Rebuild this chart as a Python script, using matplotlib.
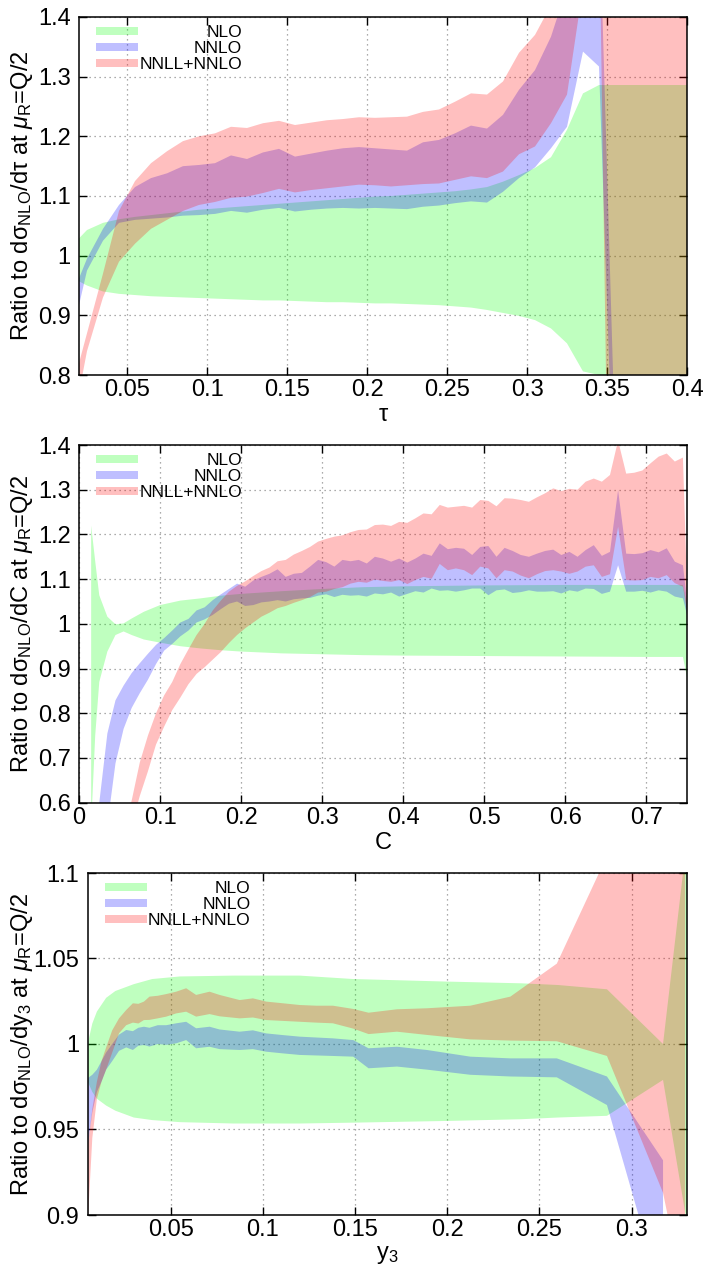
import matplotlib
matplotlib.use("Agg")
import matplotlib.pyplot as plt
from matplotlib.patches import Rectangle

plt.rcParams.update({
    "font.family": ["Liberation Sans", "DejaVu Sans"],
    "mathtext.fontset": "custom",
    "mathtext.rm": "Liberation Sans",
    "mathtext.it": "Liberation Sans:italic",
    "mathtext.bf": "Liberation Sans:bold",
})

# ---------------- data: panel 1 (thrust tau) ----------------
tau_x = [0.02, 0.025, 0.035, 0.045, 0.055, 0.065, 0.075, 0.085, 0.095, 0.105,
         0.115, 0.125, 0.135, 0.145, 0.155, 0.165, 0.175, 0.185, 0.195, 0.205,
         0.215, 0.225, 0.235, 0.245, 0.255, 0.265, 0.275, 0.285, 0.295, 0.305,
         0.315, 0.325, 0.335, 0.345]
tau_nlo_lo = [0.957, 0.950, 0.940, 0.936, 0.934, 0.932, 0.931, 0.930, 0.929, 0.928,
              0.927, 0.926, 0.925, 0.925, 0.924, 0.923, 0.922, 0.922, 0.921, 0.920,
              0.920, 0.919, 0.918, 0.917, 0.915, 0.913, 0.909, 0.904, 0.899, 0.892,
              0.878, 0.853, 0.806, 0.800]
tau_nlo_hi = [1.029, 1.043, 1.055, 1.061, 1.065, 1.068, 1.071, 1.074, 1.077, 1.079,
              1.081, 1.083, 1.085, 1.087, 1.089, 1.091, 1.093, 1.095, 1.097, 1.099,
              1.100, 1.102, 1.104, 1.106, 1.108, 1.111, 1.115, 1.124, 1.135, 1.147,
              1.165, 1.211, 1.272, 1.286]
tau_nnlo_lo = [0.917, 0.975, 1.025, 1.055, 1.060, 1.062, 1.064, 1.067, 1.068, 1.070,
               1.075, 1.072, 1.077, 1.080, 1.074, 1.077, 1.079, 1.080, 1.079, 1.080,
               1.079, 1.078, 1.082, 1.084, 1.088, 1.091, 1.089, 1.107, 1.130, 1.148,
               1.180, 1.216, 1.342, 1.317]
tau_nnlo_hi = [0.962, 0.995, 1.045, 1.085, 1.115, 1.130, 1.138, 1.150, 1.152, 1.155,
               1.168, 1.162, 1.173, 1.179, 1.166, 1.171, 1.176, 1.180, 1.182, 1.180,
               1.178, 1.176, 1.190, 1.194, 1.205, 1.218, 1.213, 1.236, 1.278, 1.311,
               1.367, 1.450, 1.600, 1.600]
tau_nnll_lo = [0.770, 0.840, 0.930, 0.990, 1.020, 1.045, 1.060, 1.075, 1.085, 1.090,
               1.097, 1.099, 1.105, 1.112, 1.106, 1.110, 1.113, 1.116, 1.119, 1.118,
               1.116, 1.118, 1.120, 1.121, 1.127, 1.133, 1.130, 1.141, 1.170, 1.183,
               1.222, 1.270, 1.450, 1.600]
tau_nnll_hi = [0.820, 0.870, 0.970, 1.075, 1.125, 1.155, 1.175, 1.192, 1.200, 1.205,
               1.216, 1.214, 1.222, 1.226, 1.219, 1.223, 1.227, 1.229, 1.232, 1.231,
               1.232, 1.233, 1.241, 1.245, 1.258, 1.272, 1.270, 1.292, 1.340, 1.370,
               1.420, 1.500, 1.600, 1.700]
# behaviour past the kinematic edge
tau_nlo_tail_x, tau_nlo_tail_lo, tau_nlo_tail_hi = [0.35, 0.40], [0.78, 0.78], [1.286, 1.286]
tau_nnlo_tail_x, tau_nnlo_tail_lo, tau_nnlo_tail_hi = [0.356], [0.45], [0.60]
tau_nnll_tail_x, tau_nnll_tail_lo, tau_nnll_tail_hi = [0.351, 0.40], [0.50, 0.50], [1.70, 1.70]

# ---------------- data: panel 2 (C parameter) ----------------
c_nlo_x = [0.015, 0.02, 0.025, 0.035, 0.045, 0.055, 0.065, 0.08, 0.1, 0.125, 0.15,
           0.175, 0.2, 0.25, 0.3, 0.35, 0.4, 0.5, 0.6, 0.7, 0.745, 0.75]
c_nlo_lo = [0.55, 0.75, 0.87, 0.938, 0.975, 0.983, 0.975, 0.965, 0.958, 0.950, 0.945,
            0.941, 0.938, 0.934, 0.932, 0.930, 0.929, 0.928, 0.927, 0.926, 0.926, 0.88]
c_nlo_hi = [1.22, 1.14, 1.064, 1.016, 0.999, 1.001, 1.012, 1.027, 1.042, 1.052, 1.057,
            1.063, 1.067, 1.073, 1.078, 1.082, 1.084, 1.086, 1.087, 1.087, 1.087, 1.04]

c_x = [0.025, 0.035, 0.045, 0.055, 0.065, 0.075, 0.085, 0.095, 0.105, 0.115,
       0.125, 0.135, 0.145, 0.155, 0.165, 0.175, 0.185, 0.195, 0.205, 0.215,
       0.225, 0.235, 0.245, 0.255, 0.265, 0.275, 0.285, 0.295, 0.305, 0.315,
       0.325, 0.335, 0.345, 0.355, 0.365, 0.375, 0.385, 0.395, 0.405, 0.415,
       0.425, 0.435, 0.445, 0.455, 0.465, 0.475, 0.485, 0.495, 0.505, 0.515,
       0.525, 0.535, 0.545, 0.555, 0.565, 0.575, 0.585, 0.595, 0.605, 0.615,
       0.625, 0.635, 0.645, 0.655, 0.665, 0.675, 0.685, 0.695, 0.705, 0.715,
       0.725, 0.735, 0.745, 0.75]
c_nnlo_lo = [0.45, 0.55, 0.688, 0.765, 0.812, 0.845, 0.875, 0.91, 0.94, 0.955,
             0.972, 0.985, 1.003, 1.01, 1.02, 1.033, 1.045, 1.05, 1.04, 1.042,
             1.048, 1.05, 1.053, 1.05, 1.055, 1.057, 1.058, 1.063, 1.066, 1.06,
             1.065, 1.063, 1.064, 1.061, 1.068, 1.066, 1.070, 1.061, 1.067, 1.073,
             1.070, 1.079, 1.074, 1.075, 1.072, 1.075, 1.079, 1.079, 1.064, 1.075,
             1.077, 1.069, 1.071, 1.075, 1.072, 1.072, 1.073, 1.068, 1.075, 1.072,
             1.079, 1.078, 1.067, 1.072, 1.131, 1.072, 1.072, 1.074, 1.070, 1.075,
             1.072, 1.061, 1.057, 1.02]
c_nnlo_hi = [0.60, 0.755, 0.829, 0.862, 0.89, 0.912, 0.933, 0.953, 0.968, 0.985,
             1.003, 1.011, 1.03, 1.037, 1.053, 1.066, 1.078, 1.09, 1.083, 1.097,
             1.105, 1.112, 1.122, 1.105, 1.112, 1.114, 1.128, 1.143, 1.138, 1.128,
             1.143, 1.14, 1.143, 1.135, 1.150, 1.146, 1.139, 1.146, 1.137, 1.146,
             1.157, 1.152, 1.180, 1.167, 1.170, 1.168, 1.154, 1.172, 1.174, 1.150,
             1.170, 1.163, 1.154, 1.150, 1.157, 1.163, 1.166, 1.154, 1.161, 1.150,
             1.165, 1.176, 1.152, 1.161, 1.299, 1.157, 1.156, 1.158, 1.165, 1.160,
             1.169, 1.139, 1.131, 1.05]
c_nnll_lo = [0.30, 0.35, 0.40, 0.45, 0.55, 0.615, 0.67, 0.73, 0.77, 0.807,
             0.835, 0.865, 0.888, 0.903, 0.92, 0.937, 0.957, 0.975, 0.99, 1.003,
             1.016, 1.025, 1.035, 1.04, 1.047, 1.053, 1.06, 1.07, 1.072, 1.078,
             1.082, 1.09, 1.094, 1.092, 1.099, 1.096, 1.094, 1.098, 1.089, 1.098,
             1.105, 1.101, 1.134, 1.120, 1.124, 1.120, 1.109, 1.128, 1.124, 1.102,
             1.120, 1.117, 1.108, 1.102, 1.111, 1.118, 1.120, 1.117, 1.112, 1.117,
             1.128, 1.131, 1.105, 1.111, 1.217, 1.098, 1.097, 1.098, 1.105, 1.102,
             1.109, 1.091, 1.083, 1.03]
c_nnll_hi = [0.35, 0.42, 0.48, 0.54, 0.605, 0.69, 0.75, 0.80, 0.84, 0.87,
             0.91, 0.943, 0.975, 1.0, 1.03, 1.052, 1.072, 1.085, 1.095, 1.107,
             1.118, 1.126, 1.14, 1.143, 1.155, 1.163, 1.172, 1.184, 1.19, 1.195,
             1.198, 1.205, 1.210, 1.211, 1.221, 1.222, 1.219, 1.228, 1.226, 1.236,
             1.247, 1.245, 1.266, 1.260, 1.262, 1.264, 1.260, 1.277, 1.275, 1.263,
             1.281, 1.280, 1.277, 1.273, 1.283, 1.292, 1.303, 1.297, 1.302, 1.300,
             1.318, 1.325, 1.318, 1.333, 1.41, 1.336, 1.338, 1.343, 1.359, 1.374,
             1.381, 1.363, 1.372, 1.08]

# ---------------- data: panel 3 (y3) ----------------
y3_nlo_x = [0.005, 0.0075, 0.01, 0.015, 0.02, 0.03, 0.04, 0.055, 0.084, 0.12,
            0.149, 0.2, 0.24, 0.26, 0.2866, 0.317, 0.33]
y3_nlo_lo = [0.978, 0.972, 0.968, 0.964, 0.961, 0.957, 0.9555, 0.9543, 0.9535, 0.9535,
             0.954, 0.955, 0.956, 0.957, 0.958, 0.979, 0.895]
y3_nlo_hi = [1.0, 1.012, 1.019, 1.027, 1.031, 1.035, 1.038, 1.0395, 1.040, 1.040,
             1.038, 1.0365, 1.0355, 1.0345, 1.032, 1.0, 1.12]

y3_x = [0.005, 0.0075, 0.01, 0.0125, 0.015, 0.0183, 0.022, 0.0259, 0.0295, 0.0325,
        0.0355, 0.0385, 0.043, 0.0476, 0.053, 0.0584, 0.0638, 0.0711, 0.0765, 0.0874,
        0.0946, 0.1018, 0.111, 0.12, 0.129, 0.138, 0.149, 0.1573, 0.1727, 0.189,
        0.2125, 0.2342, 0.2594, 0.2866, 0.317, 0.329]
y3_nnlo_lo = [0.94, 0.96, 0.972, 0.978, 0.985, 0.99, 0.996, 0.998, 0.9965, 0.999,
              0.9994, 0.9985, 1.0, 0.9995, 1.0004, 1.0023, 0.9975, 0.9984, 0.997, 0.9965,
              0.997, 0.9955, 0.9945, 0.9936, 0.9933, 0.993, 0.9926, 0.9858, 0.9868, 0.985,
              0.982, 0.981, 0.9805, 0.9643, 0.85]
y3_nnlo_hi = [0.98, 0.982, 0.985, 0.99, 0.995, 1.0, 1.0055, 1.0082, 1.0075, 1.0095,
              1.0101, 1.0095, 1.011, 1.011, 1.0121, 1.013, 1.0092, 1.0101, 1.0085, 1.0072,
              1.008, 1.0062, 1.0052, 1.0043, 1.0038, 1.0033, 1.0023, 0.9975, 0.9984, 0.9965,
              0.9926, 0.9916, 0.9916, 0.981, 0.932]
y3_nnll_lo = [0.895, 0.945, 0.968, 0.978, 0.985, 0.995, 1.0063, 1.011, 1.0125, 1.012,
              1.014, 1.0141, 1.015, 1.016, 1.0179, 1.0189, 1.016, 1.0175, 1.0162, 1.015,
              1.0155, 1.014, 1.0135, 1.013, 1.0125, 1.0121, 1.009, 1.0058, 1.0072, 1.0053,
              1.0027, 1.002, 1.0016, 0.993, 0.913, 0.85]
y3_nnll_hi = [0.94, 0.962, 0.978, 0.99, 0.998, 1.008, 1.015, 1.0199, 1.0238, 1.0235,
              1.0248, 1.0277, 1.0282, 1.0292, 1.0306, 1.0326, 1.0287, 1.0306, 1.0287, 1.0257,
              1.0267, 1.0248, 1.0238, 1.0228, 1.0224, 1.0224, 1.0205, 1.0183, 1.0203, 1.0209,
              1.0224, 1.0277, 1.047, 1.11, 1.25, 1.25]

# ---------------- labels / ticks ----------------
legend_labels = ["NLO", "NNLO", "NNLL+NNLO"]
series_colors = ["#00ff00", "#0000ff", "#ff0000"]

tau_xticks = [0.05, 0.1, 0.15, 0.2, 0.25, 0.3, 0.35, 0.4]
tau_xticklabels = ["0.05", "0.1", "0.15", "0.2", "0.25", "0.3", "0.35", "0.4"]
tau_yticks = [0.8, 0.9, 1.0, 1.1, 1.2, 1.3, 1.4]
tau_yticklabels = ["0.8", "0.9", "1", "1.1", "1.2", "1.3", "1.4"]

c_xticks = [0, 0.1, 0.2, 0.3, 0.4, 0.5, 0.6, 0.7]
c_xticklabels = ["0", "0.1", "0.2", "0.3", "0.4", "0.5", "0.6", "0.7"]
c_yticks = [0.6, 0.7, 0.8, 0.9, 1.0, 1.1, 1.2, 1.3, 1.4]
c_yticklabels = ["0.6", "0.7", "0.8", "0.9", "1", "1.1", "1.2", "1.3", "1.4"]

y3_xticks = [0.05, 0.1, 0.15, 0.2, 0.25, 0.3]
y3_xticklabels = ["0.05", "0.1", "0.15", "0.2", "0.25", "0.3"]
y3_yticks = [0.9, 0.95, 1.0, 1.05, 1.1]
y3_yticklabels = ["0.9", "0.95", "1", "1.05", "1.1"]

# ---------------- figure ----------------
W, H = 708, 1269
fig = plt.figure(figsize=(W / 100, H / 100), dpi=100)


def axes_px(left, top, right, bottom):
    return fig.add_axes([left / W, 1 - bottom / H, (right - left) / W, (bottom - top) / H])


ax1 = axes_px(79, 17, 687, 375)
ax2 = axes_px(79, 445, 687, 802.7)
ax3 = axes_px(87.7, 873, 687, 1215)


def band(ax, x, lo, hi, color):
    ax.fill_between(x, lo, hi, facecolor=color, alpha=0.25, linewidth=0, zorder=2)


def style(ax, xlim, ylim, xt, xtl, yt, ytl):
    ax.set_xlim(*xlim)
    ax.set_ylim(*ylim)
    ax.set_xticks(xt)
    ax.set_xticklabels(xtl)
    ax.set_yticks(yt)
    ax.set_yticklabels(ytl)
    ax.tick_params(direction="in", top=True, right=True, length=6, width=1.0,
                   labelsize=17, colors="black")
    ax.tick_params(axis="x", pad=3)
    ax.tick_params(axis="y", pad=6)
    ax.grid(True, linestyle=(0, (1, 3)), color="#909090", linewidth=0.9)
    ax.set_axisbelow(True)
    for s in ax.spines.values():
        s.set_linewidth(1.1)


def legend(ax):
    bb = ax.get_position()
    aw, ah = bb.width * W, bb.height * H
    for i, (lab, col) in enumerate(zip(legend_labels, series_colors)):
        yc = 14 + 16 * i
        ax.add_patch(Rectangle((17 / aw, 1 - (yc + 4) / ah), 42 / aw, 8 / ah,
                               transform=ax.transAxes, facecolor=col, alpha=0.25,
                               linewidth=0, zorder=5))
        ax.text(163 / aw, 1 - (yc + 6) / ah, lab, transform=ax.transAxes,
                ha="right", va="baseline", fontsize=12.5, zorder=6)


# panel 1
band(ax1, tau_x + tau_nlo_tail_x, tau_nlo_lo + tau_nlo_tail_lo, tau_nlo_hi + tau_nlo_tail_hi, series_colors[0])
band(ax1, tau_x + tau_nnlo_tail_x, tau_nnlo_lo + tau_nnlo_tail_lo, tau_nnlo_hi + tau_nnlo_tail_hi, series_colors[1])
band(ax1, tau_x + tau_nnll_tail_x, tau_nnll_lo + tau_nnll_tail_lo, tau_nnll_hi + tau_nnll_tail_hi, series_colors[2])
style(ax1, (0.02, 0.4), (0.8, 1.4), tau_xticks, tau_xticklabels, tau_yticks, tau_yticklabels)
legend(ax1)
ax1.set_xlabel("τ", fontsize=17, labelpad=2)
ax1.set_ylabel("Ratio to dσ$_{\\rm NLO}$/dτ at $\\mu_{\\rm R}$=Q/2", fontsize=17)
ax1.yaxis.set_label_coords(-0.072, 0.5)

# panel 2
band(ax2, c_nlo_x, c_nlo_lo, c_nlo_hi, series_colors[0])
band(ax2, c_x, c_nnlo_lo, c_nnlo_hi, series_colors[1])
band(ax2, c_x, c_nnll_lo, c_nnll_hi, series_colors[2])
style(ax2, (0, 0.75), (0.6, 1.4), c_xticks, c_xticklabels, c_yticks, c_yticklabels)
legend(ax2)
ax2.set_xlabel("C", fontsize=17, labelpad=2)
ax2.set_ylabel("Ratio to dσ$_{\\rm NLO}$/dC at $\\mu_{\\rm R}$=Q/2", fontsize=17)
ax2.yaxis.set_label_coords(-0.072, 0.5)

# panel 3
band(ax3, y3_nlo_x, y3_nlo_lo, y3_nlo_hi, series_colors[0])
band(ax3, y3_x[:len(y3_nnlo_lo)], y3_nnlo_lo, y3_nnlo_hi, series_colors[1])
band(ax3, y3_x, y3_nnll_lo, y3_nnll_hi, series_colors[2])
style(ax3, (0.005, 0.33), (0.9, 1.1), y3_xticks, y3_xticklabels, y3_yticks, y3_yticklabels)
legend(ax3)
ax3.set_xlabel("y$_3$", fontsize=17, labelpad=2)
ax3.set_ylabel("Ratio to dσ$_{\\rm NLO}$/dy$_3$ at $\\mu_{\\rm R}$=Q/2", fontsize=17)
ax3.yaxis.set_label_coords(-0.088, 0.5)

fig.savefig("out.png", dpi=100)
